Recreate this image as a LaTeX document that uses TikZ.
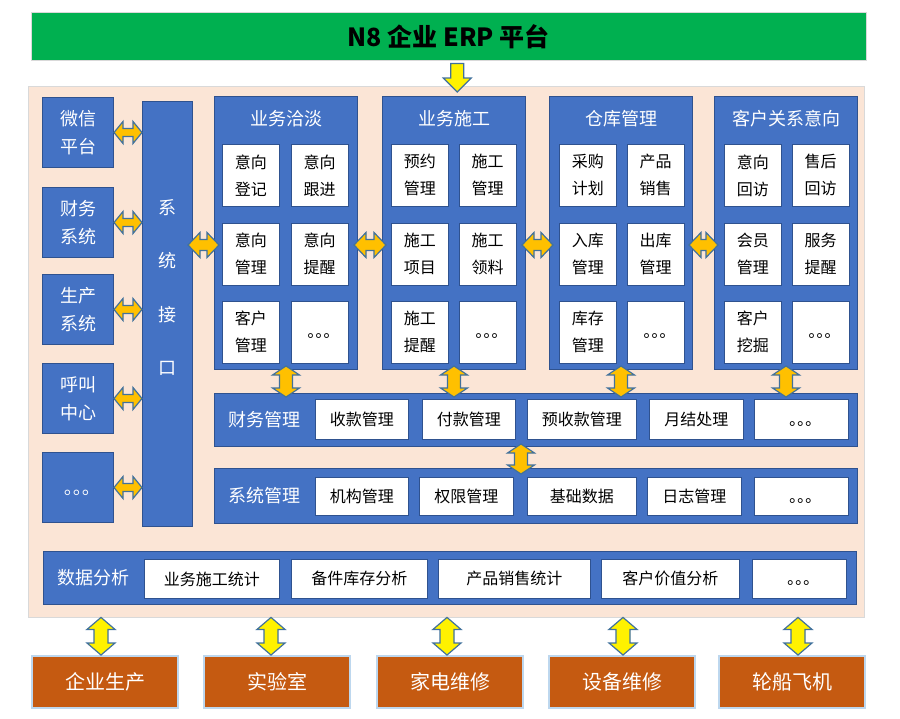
\documentclass[tikz,border=0pt]{standalone}
\usepackage{fontspec}
\setmainfont{Noto Sans CJK SC}
\usetikzlibrary{positioning,calc}
\definecolor{erpgreen}{HTML}{00B050}
\definecolor{panelblue}{HTML}{4472C4}
\definecolor{edgeblue}{HTML}{2F528F}
\definecolor{peach}{HTML}{FBE5D6}
\definecolor{rust}{HTML}{C55A11}
\definecolor{paleblue}{HTML}{BDD7EE}
\definecolor{gold}{HTML}{FFC000}
\definecolor{arrowedge}{HTML}{41719C}
\tikzset{
    title-bar/.style = {fill=erpgreen, draw=black!15, thin, minimum width=835pt, minimum height=48pt, font=\fontsize{25}{30}\selectfont\bfseries},
    back-panel/.style = {fill=peach, draw=black!15, thin, minimum width=836pt, minimum height=531pt},
    blue-box/.style = {fill=panelblue, draw=edgeblue, line width=1pt, text=white, inner sep=0pt},
    side-box/.style = {blue-box, minimum width=71pt, minimum height=70pt, align=center, font=\fontsize{18}{28}\selectfont},
    panel/.style = {blue-box, minimum width=143pt, minimum height=273pt, anchor=north west},
    panel-title/.style = {text=white, font=\fontsize{18}{22}\selectfont},
    bar-label/.style = {text=white, font=\fontsize{18}{22}\selectfont},
    cell/.style = {fill=white, draw=edgeblue, line width=0.8pt, inner sep=0pt, minimum width=57pt, minimum height=62pt, align=center, font=\fontsize{16}{27}\selectfont},
    row-cell/.style = {fill=white, draw=edgeblue, line width=0.8pt, inner sep=0pt, minimum height=40pt, anchor=north west, font=\fontsize{16}{20}\selectfont},
    out-box/.style = {fill=rust, draw=paleblue, line width=2pt, text=white, minimum width=146pt, minimum height=52pt, anchor=north west, font=\fontsize{20}{24}\selectfont},
    gold-arrow/.style = {fill=gold, draw=arrowedge, line width=1.2pt},
    lemon-arrow/.style = {fill=yellow, draw=arrowedge, line width=1.2pt},
}
% block arrows: style, from, to, shaft half width, head half width, head length
\newcommand{\hbiarrow}[6]{%
  \draw[#1] let \p1=#2, \p2=#3 in
    (\x1,\y1) -- (\x1+#6,\y1+#5) -- (\x1+#6,\y1+#4) -- (\x2-#6,\y1+#4) -- (\x2-#6,\y1+#5)
    -- (\x2,\y1) -- (\x2-#6,\y1-#5) -- (\x2-#6,\y1-#4) -- (\x1+#6,\y1-#4) -- (\x1+#6,\y1-#5) -- cycle;}
\newcommand{\vbiarrow}[6]{%
  \draw[#1] let \p1=#2, \p2=#3 in
    (\x1,\y1) -- (\x1+#5,\y1-#6) -- (\x1+#4,\y1-#6) -- (\x1+#4,\y2+#6) -- (\x1+#5,\y2+#6)
    -- (\x1,\y2) -- (\x1-#5,\y2+#6) -- (\x1-#4,\y2+#6) -- (\x1-#4,\y1-#6) -- (\x1-#5,\y1-#6) -- cycle;}
\newcommand{\dnarrow}[6]{%
  \draw[#1] let \p1=#2, \p2=#3 in
    (\x1-#4,\y1) -- (\x1+#4,\y1) -- (\x1+#4,\y2+#6) -- (\x1+#5,\y2+#6) -- (\x1,\y2)
    -- (\x1-#5,\y2+#6) -- (\x1-#4,\y2+#6) -- cycle;}

\begin{document}
\begin{tikzpicture}[x=1pt, y=-1pt]
\useasboundingbox (0,0) rectangle (900,718);
\node[title-bar, anchor=north west] (erp) at (31,12) {N8 企业 ERP 平台};
\node[back-panel, anchor=north west] (back) at (28,86) {};

% left side systems
\node[side-box, anchor=north west] (wx) at (42,97) {微信\\平台};
\node[side-box, below=19pt of wx] (cw) {财务\\系统};
\node[side-box, below=16pt of cw] (sc) {生产\\系统};
\node[side-box, below=18pt of sc] (hj) {呼叫\\中心};
\node[side-box, below=18pt of hj] (qt) {\vphantom{理}｡｡｡};
\node[blue-box, anchor=north west, minimum width=50pt, minimum height=425pt] (api) at (142,101) {};
\node[bar-label, align=center, font=\fontsize{18}{53.5}\selectfont] at (167,287.5) {系\\统\\接\\口};

% business panels
\node[panel] (yw) at (214,96) {};
\node[panel-title] at ([yshift=-23pt]yw.north) {业务洽淡};
\node[cell, below right=48pt and 8pt of yw.north west] (yw11) {意向\\登记};
\node[cell, right=11pt of yw11] (yw12) {意向\\跟进};
\node[cell, below=16pt of yw11] (yw21) {意向\\管理};
\node[cell, right=11pt of yw21] (yw22) {意向\\提醒};
\node[cell, below=15pt of yw21] (yw31) {客户\\管理};
\node[cell, right=11pt of yw31] (yw32) {\vphantom{理}｡｡｡};

\node[panel] (sg) at (382,96) {};
\node[panel-title] at ([yshift=-23pt]sg.north) {业务施工};
\node[cell, below right=48pt and 9pt of sg.north west] (sg11) {预约\\管理};
\node[cell, right=10pt of sg11] (sg12) {施工\\管理};
\node[cell, below=16pt of sg11] (sg21) {施工\\项目};
\node[cell, right=10pt of sg21] (sg22) {施工\\领料};
\node[cell, below=15pt of sg21] (sg31) {施工\\提醒};
\node[cell, right=10pt of sg31] (sg32) {\vphantom{理}｡｡｡};

\node[panel] (ck) at (549,96) {};
\node[panel-title] at ([yshift=-23pt]ck.north) {仓库管理};
\node[cell, below right=48pt and 10pt of ck.north west] (ck11) {采购\\计划};
\node[cell, right=10pt of ck11] (ck12) {产品\\销售};
\node[cell, below=16pt of ck11] (ck21) {入库\\管理};
\node[cell, right=10pt of ck21] (ck22) {出库\\管理};
\node[cell, below=15pt of ck21] (ck31) {库存\\管理};
\node[cell, right=10pt of ck31] (ck32) {\vphantom{理}｡｡｡};

\node[panel] (kh) at (714,96) {};
\node[panel-title] at ([yshift=-23pt]kh.north) {客户关系意向};
\node[cell, below right=48pt and 10pt of kh.north west] (kh11) {意向\\回访};
\node[cell, right=10pt of kh11] (kh12) {售后\\回访};
\node[cell, below=16pt of kh11] (kh21) {会员\\管理};
\node[cell, right=10pt of kh21] (kh22) {服务\\提醒};
\node[cell, below=15pt of kh21] (kh31) {客户\\挖掘};
\node[cell, right=10pt of kh31] (kh32) {\vphantom{理}｡｡｡};

% finance and system rows
\node[blue-box, anchor=north west, minimum width=643pt, minimum height=53pt] (cwgl) at (214,393) {};
\node[bar-label] at ([xshift=50pt]cwgl.west) {财务管理};
\node[row-cell, minimum width=93pt] (cw1) at (315,399) {收款管理};
\node[row-cell, minimum width=93pt] (cw2) at (422,399) {付款管理};
\node[row-cell, minimum width=109pt] (cw3) at (527,399) {预收款管理};
\node[row-cell, minimum width=94pt] (cw4) at (649,399) {月结处理};
\node[row-cell, minimum width=94pt] (cw5) at (754,399) {\vphantom{理}｡｡｡};

\node[blue-box, anchor=north west, minimum width=643pt, minimum height=55pt] (xtgl) at (214,468) {};
\node[bar-label] at ([xshift=50pt]xtgl.west) {系统管理};
\node[row-cell, minimum width=93pt, minimum height=38pt] (xt1) at (315,477) {机构管理};
\node[row-cell, minimum width=94pt, minimum height=38pt] (xt2) at (419,477) {权限管理};
\node[row-cell, minimum width=109pt, minimum height=38pt] (xt3) at (527,477) {基础数据};
\node[row-cell, minimum width=94pt, minimum height=38pt] (xt4) at (647,477) {日志管理};
\node[row-cell, minimum width=94pt, minimum height=38pt] (xt5) at (754,477) {\vphantom{理}｡｡｡};

% data analysis row
\node[blue-box, anchor=north west, minimum width=813pt, minimum height=53pt] (sjfx) at (43,551) {};
\node[bar-label] at ([xshift=50pt]sjfx.west) {数据分析};
\node[row-cell, minimum width=135pt, minimum height=39pt] (fx1) at (144,559) {业务施工统计};
\node[row-cell, minimum width=136pt, minimum height=39pt] (fx2) at (291,559) {备件库存分析};
\node[row-cell, minimum width=152pt, minimum height=39pt] (fx3) at (438,559) {产品销售统计};
\node[row-cell, minimum width=138pt, minimum height=39pt] (fx4) at (601,559) {客户价值分析};
\node[row-cell, minimum width=94pt, minimum height=39pt] (fx5) at (752,559) {\vphantom{理}｡｡｡};

% industries
\node[out-box] (qy) at (31,655) {企业生产};
\node[out-box] (sy) at (203,655) {实验室};
\node[out-box] (jd) at (376,655) {家电维修};
\node[out-box] (sb) at (548,655) {设备维修};
\node[out-box] (lc) at (718,655) {轮船飞机};

% arrows
\dnarrow{lemon-arrow}{([xshift=8.5pt,yshift=-3pt]erp.south)}{([yshift=-6pt]back.north)}{6.5pt}{14pt}{14pt}
\foreach \s in {wx,cw,sc,hj,qt}{
  \hbiarrow{gold-arrow}{(\s.east)}{(\s.east -| api.west)}{4pt}{11pt}{9pt}
}
\coordinate (mid) at (0,245);
\hbiarrow{gold-arrow}{($(api.east |- mid)+(-5,0)$)}{($(yw.west |- mid)+(5,0)$)}{5.5pt}{12.5pt}{12pt}
\hbiarrow{gold-arrow}{($(yw.east |- mid)+(-4,0)$)}{($(sg.west |- mid)+(4,0)$)}{5.5pt}{12.5pt}{12pt}
\hbiarrow{gold-arrow}{($(sg.east |- mid)+(-4,0)$)}{($(ck.west |- mid)+(4,0)$)}{5.5pt}{12.5pt}{12pt}
\hbiarrow{gold-arrow}{($(ck.east |- mid)+(-4,0)$)}{($(kh.west |- mid)+(4,0)$)}{5.5pt}{12.5pt}{12pt}
\foreach \m in {yw,sg,ck,kh}{
  \vbiarrow{gold-arrow}{($(\m.south)+(0,-4)$)}{($(\m.south |- cwgl.north)+(0,4)$)}{6.5pt}{13.5pt}{9pt}
}
\vbiarrow{gold-arrow}{($(cwgl.south -| xt3.west)+(-6,-3)$)}{($(xtgl.north -| xt3.west)+(-6,6)$)}{6.5pt}{13.5pt}{9pt}
\foreach \o/\dx in {qy/-4,sy/-6,jd/-3,sb/1,lc/6}{
  \vbiarrow{lemon-arrow}{($(back.south -| \o.north)+(\dx,0)$)}{($(\o.north)+(\dx,0)$)}{7pt}{14pt}{12pt}
}
\end{tikzpicture}
\end{document}
